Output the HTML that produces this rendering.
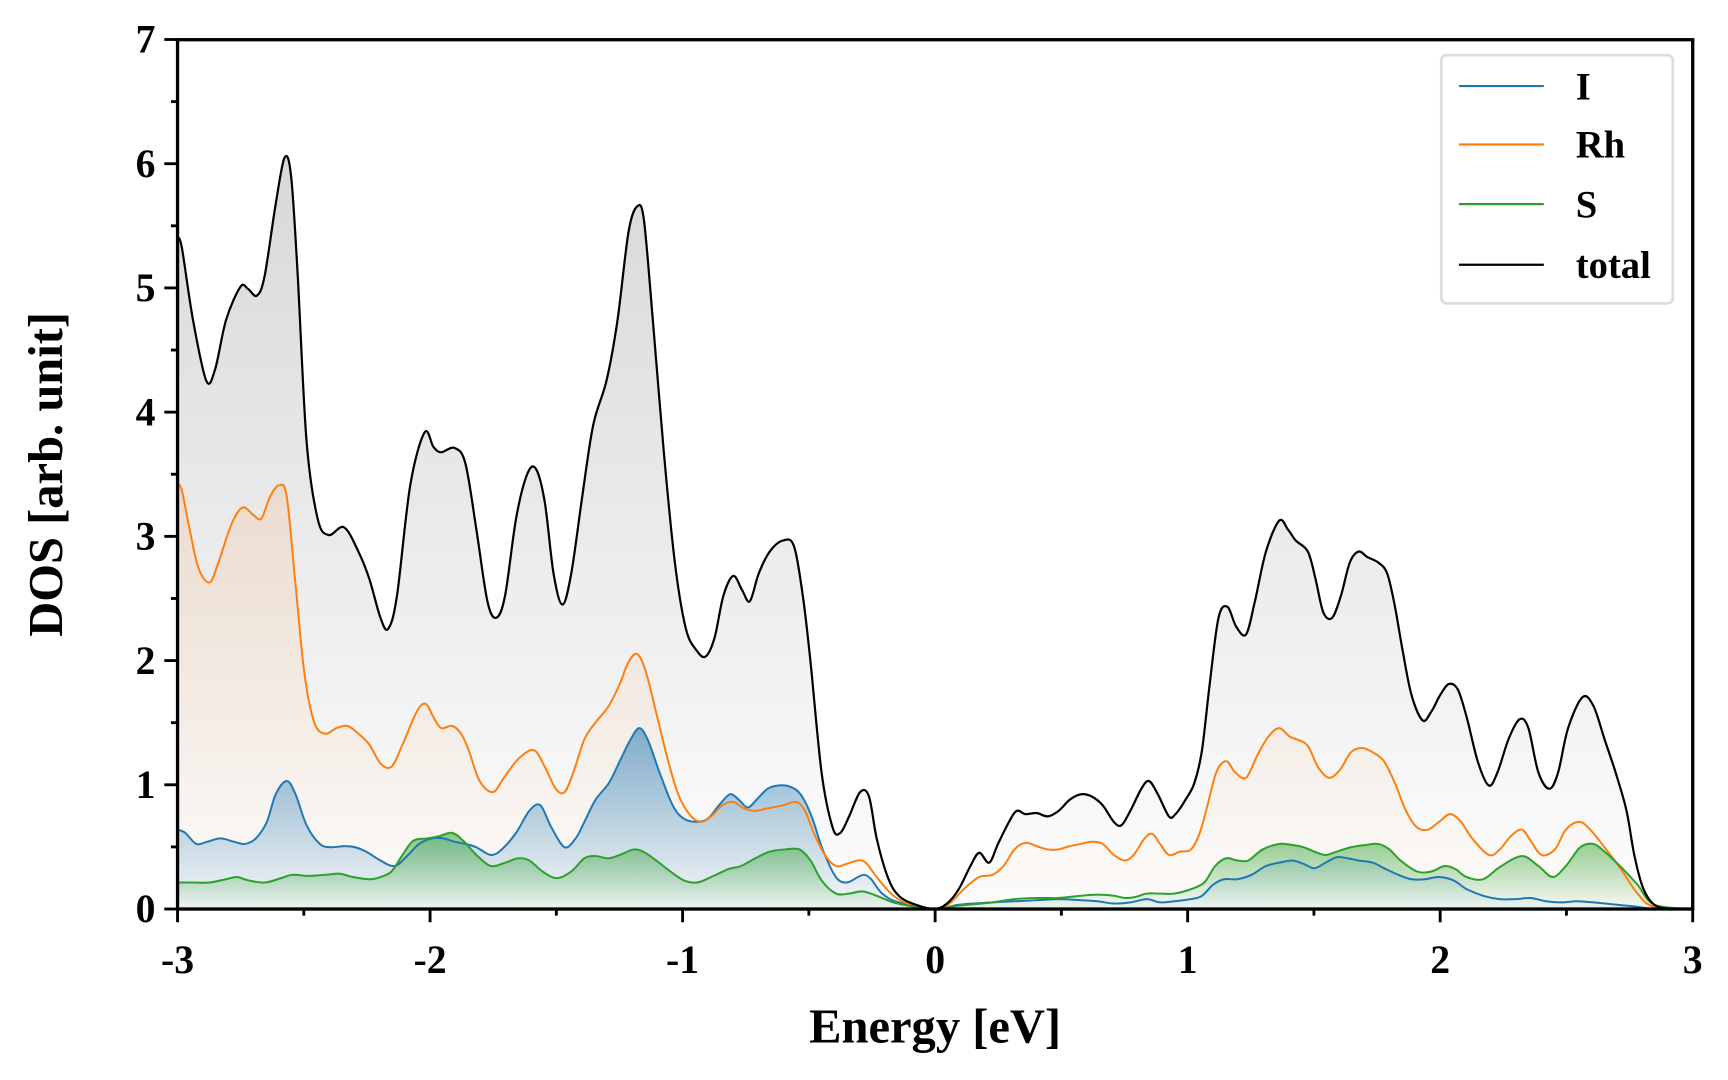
<!DOCTYPE html>
<html><head><meta charset="utf-8"><style>
html,body{margin:0;padding:0;background:#fff;width:1728px;height:1080px;overflow:hidden}
svg{display:block}
text{font-family:"Liberation Serif",serif;font-weight:bold;fill:#000}
.tl{font-size:36px}
</style></head><body>
<svg id="s" width="1728" height="1080" viewBox="0 0 1567 979" preserveAspectRatio="none" xmlns="http://www.w3.org/2000/svg">
<defs>
<linearGradient id="gT" gradientUnits="userSpaceOnUse" x1="0" y1="140" x2="0" y2="824"><stop offset="0" stop-color="#d8d8d8"/><stop offset="1" stop-color="#d8d8d8" stop-opacity="0.05"/></linearGradient>
<linearGradient id="gR" gradientUnits="userSpaceOnUse" x1="0" y1="440" x2="0" y2="824"><stop offset="0" stop-color="#ff7f0e" stop-opacity="0.12"/><stop offset="1" stop-color="#ff7f0e" stop-opacity="0.01"/></linearGradient>
<linearGradient id="gI" gradientUnits="userSpaceOnUse" x1="0" y1="660" x2="0" y2="824"><stop offset="0" stop-color="#1f77b4" stop-opacity="0.55"/><stop offset="1" stop-color="#1f77b4" stop-opacity="0.03"/></linearGradient>
<linearGradient id="gS" gradientUnits="userSpaceOnUse" x1="0" y1="755" x2="0" y2="824"><stop offset="0" stop-color="#2ca02c" stop-opacity="0.55"/><stop offset="1" stop-color="#2ca02c" stop-opacity="0.03"/></linearGradient>
</defs>
<g id="plot"></g>
<rect x="161" y="36" width="1374" height="788" fill="none" stroke="#000" stroke-width="3"/>
<g id="ticks" stroke="#000" stroke-width="2.6"></g>
<g id="xl"></g>
<g id="yl"></g>
<text x="848" y="945" style="font-size:44px" text-anchor="middle">Energy [eV]</text>
<text transform="translate(56,430) rotate(-90)" style="font-size:44px" text-anchor="middle">DOS [arb. unit]</text>
<rect x="1307" y="50" width="210" height="225" rx="5" fill="#fff" fill-opacity="0.8" stroke="#ddd" stroke-width="2.5"/>
<g stroke-width="2"><line x1="1323" y1="78" x2="1400" y2="78" stroke="#1f77b4"/><line x1="1323" y1="131" x2="1400" y2="131" stroke="#ff7f0e"/><line x1="1323" y1="185" x2="1400" y2="185" stroke="#2ca02c"/><line x1="1323" y1="240" x2="1400" y2="240" stroke="#000"/></g>
<g style="font-size:35px"><text x="1429" y="90">I</text><text x="1429" y="143">Rh</text><text x="1429" y="197">S</text><text x="1429" y="252">total</text></g>
</svg>
<script>
const T=[[161,215],[165,225],[175,290],[187,345],[195,335],[205,290],[218,260],[225,262],[233,268],[240,250],[250,185],[258,143],[264,160],[270,250],[278,400],[288,470],[298,485],[312,478],[325,500],[335,525],[345,560],[352,570],[360,540],[372,440],[385,392],[393,405],[400,410],[412,406],[422,420],[432,480],[442,545],[450,560],[458,540],[468,470],[478,430],[486,425],[494,455],[502,520],[510,548],[518,520],[528,450],[538,385],[550,345],[560,290],[570,210],[578,187],[584,200],[592,290],[602,410],[612,510],[622,570],[632,590],[640,595],[648,578],[656,540],[665,522],[673,535],[680,545],[688,520],[698,500],[710,490],[720,495],[728,540],[735,600],[745,700],[755,750],[762,755],[770,740],[780,718],[788,722],[795,760],[805,795],[815,812],[830,820],[848,824],[860,818],[870,805],[880,785],[888,773],[897,782],[905,765],[915,745],[922,735],[930,738],[940,737],[950,740],[960,735],[970,725],[980,720],[990,722],[1000,730],[1010,745],[1017,748],[1025,735],[1035,715],[1042,708],[1050,720],[1060,740],[1066,738],[1075,725],[1083,710],[1090,680],[1097,620],[1105,560],[1113,550],[1121,568],[1130,575],[1138,545],[1148,500],[1160,472],[1168,480],[1175,490],[1186,500],[1193,525],[1200,555],[1208,560],[1216,540],[1224,510],[1232,500],[1240,505],[1250,510],[1258,520],[1265,550],[1272,590],[1280,630],[1290,653],[1298,645],[1306,630],[1314,620],[1322,625],[1330,650],[1340,690],[1350,712],[1358,700],[1368,670],[1378,652],[1386,660],[1395,700],[1405,715],[1413,700],[1422,660],[1435,632],[1445,640],[1455,670],[1465,700],[1475,735],[1482,775],[1490,805],[1500,820],[1515,824],[1535,824]];
const R=[[161,438],[165,445],[172,480],[180,515],[190,528],[198,510],[210,475],[220,460],[230,467],[237,470],[245,450],[253,440],[260,450],[268,530],[276,610],[285,655],[295,665],[305,660],[315,658],[325,665],[335,675],[345,692],[355,695],[365,675],[378,645],[386,638],[393,650],[400,660],[410,658],[418,665],[425,680],[435,708],[447,718],[457,705],[470,688],[484,680],[494,695],[504,715],[512,718],[520,700],[530,670],[540,655],[552,640],[562,620],[570,600],[578,593],[586,610],[596,650],[606,690],[615,720],[625,738],[635,745],[645,740],[655,730],[665,727],[675,733],[685,735],[695,733],[710,730],[722,727],[730,735],[738,755],[748,775],[758,785],[768,783],[778,780],[785,782],[795,795],[808,810],[820,818],[835,822],[848,824],[860,820],[875,805],[888,795],[900,793],[910,785],[920,770],[930,764],[940,767],[950,770],[960,770],[970,767],[980,765],[990,763],[1000,765],[1010,775],[1020,780],[1028,775],[1038,760],[1045,756],[1052,765],[1060,775],[1070,772],[1080,770],[1088,755],[1095,730],[1103,700],[1112,690],[1120,700],[1130,705],[1140,685],[1150,668],[1160,660],[1170,668],[1185,675],[1195,695],[1205,705],[1215,698],[1225,682],[1235,678],[1245,682],[1255,690],[1265,710],[1275,735],[1285,750],[1295,752],[1305,745],[1315,738],[1325,745],[1335,760],[1350,775],[1360,770],[1370,758],[1380,752],[1388,762],[1398,775],[1410,770],[1420,752],[1432,745],[1442,752],[1455,768],[1470,788],[1485,810],[1500,822],[1535,824]];
const I=[[161,752],[168,755],[178,765],[188,763],[200,760],[212,763],[222,765],[232,760],[242,745],[250,720],[260,708],[268,720],[278,748],[290,765],[300,768],[312,767],[322,768],[332,772],[345,780],[358,785],[370,775],[380,765],[392,760],[402,760],[412,763],[422,765],[432,768],[445,775],[455,770],[468,755],[480,735],[490,730],[500,750],[512,768],[522,760],[530,745],[540,725],[552,710],[562,690],[572,670],[580,660],[588,672],[598,700],[610,730],[620,742],[632,745],[642,742],[652,730],[662,720],[670,725],[678,732],[686,725],[696,715],[706,712],[716,713],[726,720],[736,740],[746,770],[758,795],[768,800],[778,795],[784,793],[790,797],[800,810],[815,818],[848,824],[870,820],[900,818],[920,817],[940,816],[960,815],[980,816],[995,817],[1010,819],[1025,818],[1040,815],[1052,818],[1065,817],[1080,815],[1090,812],[1100,802],[1110,797],[1122,797],[1135,793],[1148,785],[1160,782],[1172,780],[1182,783],[1192,787],[1202,782],[1212,777],[1222,778],[1232,780],[1245,782],[1255,787],[1268,793],[1280,797],[1292,797],[1305,795],[1318,798],[1330,806],[1345,812],[1360,815],[1375,815],[1388,814],[1402,817],[1416,818],[1430,817],[1445,818],[1465,820],[1485,822],[1500,824],[1535,824]];
const S=[[161,800],[175,800],[190,800],[205,797],[215,795],[225,798],[240,800],[255,796],[265,793],[280,794],[295,793],[308,792],[320,795],[335,797],[345,795],[355,790],[365,775],[375,762],[388,760],[398,758],[410,755],[420,762],[432,775],[445,785],[458,782],[470,778],[480,780],[492,790],[505,796],[518,790],[530,778],[540,776],[552,778],[562,775],[575,770],[585,773],[595,780],[608,790],[620,798],[632,800],[645,795],[660,788],[672,785],[685,778],[698,772],[712,770],[725,770],[735,780],[745,798],[758,810],[770,810],[782,808],[795,812],[810,818],[830,822],[848,824],[870,821],[900,818],[920,815],[940,814],[960,814],[980,812],[995,811],[1010,812],[1020,814],[1030,813],[1040,810],[1052,810],[1065,810],[1080,806],[1092,800],[1102,785],[1112,778],[1122,780],[1132,780],[1145,770],[1160,765],[1172,766],[1182,768],[1192,772],[1202,775],[1212,772],[1225,768],[1238,766],[1250,765],[1260,770],[1270,780],[1285,790],[1298,790],[1310,785],[1320,788],[1330,795],[1345,797],[1360,786],[1380,776],[1395,785],[1408,795],[1420,785],[1433,768],[1445,765],[1455,772],[1470,786],[1485,802],[1500,820],[1535,824]];
function path(p){let d="M"+p[0][0]+","+p[0][1];for(let i=0;i<p.length-1;i++){const a=p[i-1]||p[i],b=p[i],c=p[i+1],e=p[i+2]||c;d+=" C"+(b[0]+(c[0]-a[0])/6).toFixed(1)+","+(b[1]+(c[1]-a[1])/6).toFixed(1)+" "+(c[0]-(e[0]-b[0])/6).toFixed(1)+","+(c[1]-(e[1]-b[1])/6).toFixed(1)+" "+c[0]+","+c[1];}return d;}
const NS="http://www.w3.org/2000/svg",g=document.getElementById("plot");
function add(tag,at,par){const e=document.createElementNS(NS,tag);for(const k in at)e.setAttribute(k,at[k]);(par||g).appendChild(e);return e;}
[[T,"url(#gT)"],[R,"url(#gR)"],[I,"url(#gI)"],[S,"url(#gS)"]].forEach(([p,f])=>add("path",{d:path(p)+" L1535,824 L161,824 Z",fill:f}));
[[I,"#1f77b4"],[R,"#ff7f0e"],[S,"#2ca02c"],[T,"#000"]].forEach(([p,c])=>add("path",{d:path(p),fill:"none",stroke:c,"stroke-width":c=="#000"?2:1.8}));
const tk=document.getElementById("ticks"),xl=document.getElementById("xl"),yl=document.getElementById("yl");
for(let k=0;k<=12;k++){const x=161+k*114.5;add("line",{x1:x,y1:824,x2:x,y2:824+(k%2?6:12)},tk);if(k%2==0){const t=add("text",{x:x,y:882,"text-anchor":"middle","class":"tl"},xl);t.textContent=(k/2-3);}}
for(let k=0;k<=14;k++){const y=824-k*56.3;add("line",{x1:161,y1:y,x2:161-(k%2?6:12),y2:y},tk);if(k%2==0){const t=add("text",{x:141,y:y+12,"text-anchor":"end","class":"tl"},yl);t.textContent=k/2;}}
</script>
</body></html>
